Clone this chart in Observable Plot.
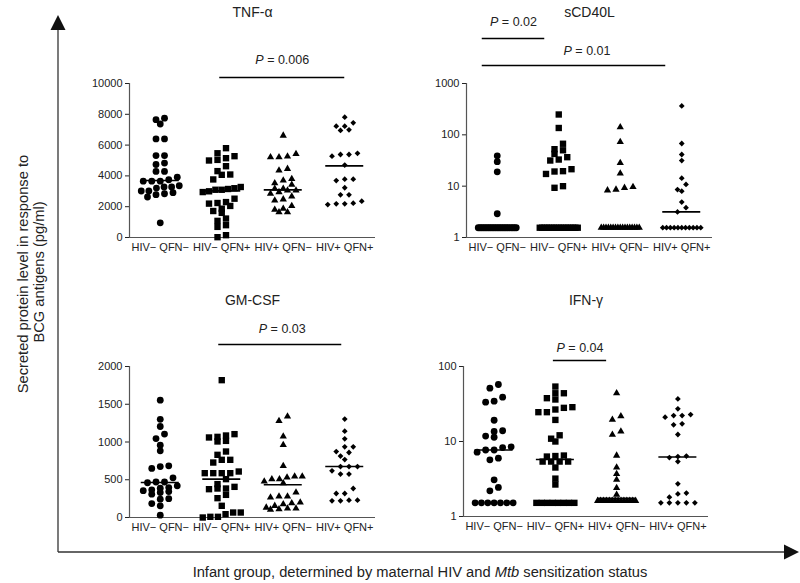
<!DOCTYPE html>
<html><head><meta charset="utf-8">
<script src="https://cdn.jsdelivr.net/npm/d3@7"></script>
<script src="https://cdn.jsdelivr.net/npm/@observablehq/plot@0.6"></script>
<style>
body{margin:0;background:#fff;}
#chart{position:relative;width:800px;height:583px;font-family:"Liberation Sans",Arial,Helvetica,sans-serif;color:#222;background:#fff;}
#chart svg{position:absolute;left:0;top:0;}
</style></head><body>
<div id="chart">
<svg id="outer" width="800" height="583">
  <line x1="58" y1="28" x2="58" y2="552" stroke="#333" stroke-width="1.3"/>
  <polygon points="58,15 50.5,30 65.5,30" fill="#111"/>
  <line x1="58" y1="552" x2="786" y2="552" stroke="#333" stroke-width="1.3"/>
  <polygon points="799,552 784,544.5 784,559.5" fill="#111"/>
  <text transform="translate(28,272) rotate(-90)" text-anchor="middle" font-size="14.7" fill="#222" font-family="Liberation Sans, Arial, sans-serif">
    <tspan x="0" dy="0">Secreted protein level in response to</tspan>
    <tspan x="0" dy="16">BCG antigens (pg/ml)</tspan>
  </text>
  <text x="420" y="577" text-anchor="middle" font-size="14.7" fill="#222" font-family="Liberation Sans, Arial, sans-serif">Infant group, determined by maternal HIV and <tspan font-style="italic">Mtb</tspan> sensitization status</text>
</svg>
</div>
<script>
// ---------- DATA ----------
const groups = ["HIV\u2212 QFN\u2212", "HIV\u2212 QFN+", "HIV+ QFN\u2212", "HIV+ QFN+"];

// TNF-alpha (pg/ml)
const tnfNegNeg = [7750,7370,7650,6400,6400,5320,5320,4740,4830,4290,4290,3920,3660,3660,3660,3750,3280,3280,3360,3210,3020,2910,2780,2630,2840,3020,950];
const tnfNegPos = [5800,5280,5000,5040,5150,5470,4630,4310,4070,4090,3770,3280,3200,3100,2950,3000,3150,3100,2520,2300,2200,2240,1870,1600,1720,2050,1230,1080,800,690,20,150];
const tnfPosNeg = [6620,5430,5220,5220,5260,4460,4350,3810,3430,3710,3530,3170,3060,3060,3170,2950,2840,2480,2410,2670,2050,1810,1640,1640,1870];
const tnfPosPos = [7810,7230,6990,6950,7230,7450,5470,5280,5390,5390,4700,3790,3700,3790,3230,2770,2770,2230,2190,2140,2190,2360];
const tnfMedians = [3700,3030,3090,4650];
const tnfBrackets = [{from:1, to:3, label:"P = 0.006"}];

// sCD40L (pg/ml)
const cdNegNeg = [39,30,19,2.9,1.55,1.55,1.55,1.55,1.55,1.55,1.55,1.55,1.55,1.55,1.55,1.55,1.55,1.55,1.55,1.55,1.55,1.55,1.55,1.55,1.55,1.55,1.55];
const cdNegPos = [249,136,67,42.5,50,52.5,33,31.6,36.7,19.6,17.3,19.3,21.4,10,9.3,1.55,1.55,1.55,1.55,1.55,1.55,1.55,1.55,1.55,1.55,1.55,1.55,1.55,1.55,1.55,1.55,1.55];
const cdPosNeg = [141,73,28.4,17.7,9.7,8.6,8.3,9.3,1.55,1.55,1.55,1.55,1.55,1.55,1.55,1.55,1.55,1.55,1.55,1.55,1.55,1.55,1.55,1.55,1.55];
const cdPosPos = [366,67.8,41.4,31.6,14.3,10.8,8.6,8.0,4.9,3.8,3.15,1.55,1.55,1.55,1.55,1.55,1.55,1.55,1.55,1.55,1.55,1.55];
const cdMedians = [1.55,1.55,1.55,3.15];
const cdBrackets = [{from:0, to:1, label:"P = 0.02"}, {from:0, to:3, label:"P = 0.01"}];

// GM-CSF (pg/ml)
const gmNegNeg = [1554,1300,1205,1105,1045,958,883,685,650,675,525,470,470,460,420,389,366,397,355,331,309,344,250,243,185,155,31];
const gmNegPos = [1819,1104,1068,1015,1007,1060,1086,874,830,764,728,764,609,587,587,587,587,508,384,406,375,384,442,300,256,155,66,44,9,0,9,66];
const gmPosNeg = [1280,1338,1073,962,684,530,543,543,508,508,477,455,331,265,278,278,199,190,132,119,119,155,177,110,105];
const gmPosPos = [1303,1144,1042,936,936,874,813,861,768,675,675,675,618,575,575,384,318,318,230,221,221,230];
const gmMedians = [464,508,433,675];
const gmBrackets = [{from:1, to:3, label:"P = 0.03"}];

// IFN-gamma (pg/ml)
const ifNegNeg = [51.4,57.5,34.5,33.4,39,19.2,13.9,13.6,11.8,11.4,8.5,7.7,7.7,7.2,8.3,6.0,5.7,3.08,2.44,2.2,1.52,1.52,1.52,1.52,1.52,1.52,1.52];
const ifNegPos = [54,44,37.8,36.3,44,28.7,24.6,26.7,24.6,28.1,19.4,12.1,10.9,10,6.4,6.3,6.5,5.4,5.4,5.4,5.4,4.5,3.2,2.67,1.52,1.52,1.52,1.52,1.52,1.52,1.52,1.52];
const ifPosNeg = [44,21.8,19.6,12.3,13.6,6.5,4.5,3.7,3.1,2.4,1.95,1.62,1.62,1.62,1.62,1.62,1.62,1.62,1.62,1.62,1.62,1.62,1.62,1.62,1.62];
const ifPosPos = [37,27.3,22.2,21.1,22.9,22.2,17.2,16.7,12.4,6.3,5.4,6.1,6.4,2.73,2.05,1.81,2.0,1.52,1.52,1.52,1.52,1.52];
const ifMedians = [7.7,5.75,1.75,6.2];
const ifBrackets = [{from:1, to:2, label:"P = 0.04"}];

// Tick values
const tnfTicks = [0,2000,4000,6000,8000,10000];
const cdTicks = [1,10,100,1000];
const gmTicks = [0,500,1000,1500,2000];
const ifTicks = [1,10,100];

// ---------- LAYOUT / STYLE ----------
const symbols = ["circle","square","triangle","diamond2"];
const symbolR = [3.4,3.6,2.7,2.6];
const panels = [
  {title:"TNF-\u03b1", series:[tnfNegNeg,tnfNegPos,tnfPosNeg,tnfPosPos], medians:tnfMedians, brackets:tnfBrackets,
   type:"linear", domain:[0,10000], ticks:tnfTicks, frame:{left:129,right:375,top:83,bottom:237}, titleY:7,
   bracketLayout:[{gap:6, s1:-2, s2:0, tgap:18, tdx:0}]},
  {title:"sCD40L", series:[cdNegNeg,cdNegPos,cdPosNeg,cdPosPos], medians:cdMedians, brackets:cdBrackets,
   type:"log", domain:[1,1000], ticks:cdTicks, frame:{left:466,right:712,top:83,bottom:237}, titleY:7,
   bracketLayout:[{gap:45, s1:-15, s2:-14, tgap:17, tdx:0},{gap:18, s1:-15, s2:-16, tgap:15, tdx:13}]},
  {title:"GM-CSF", series:[gmNegNeg,gmNegPos,gmPosNeg,gmPosPos], medians:gmMedians, brackets:gmBrackets,
   type:"linear", domain:[0,2000], ticks:gmTicks, frame:{left:129,right:375,top:366,bottom:517}, titleY:295,
   bracketLayout:[{gap:22, s1:-3, s2:-3, tgap:16, tdx:2}]},
  {title:"IFN-\u03b3", series:[ifNegNeg,ifNegPos,ifPosNeg,ifPosPos], medians:ifMedians, brackets:ifBrackets,
   type:"log", domain:[1,100], ticks:ifTicks, frame:{left:463,right:708,top:366,bottom:516}, titleY:295,
   bracketLayout:[{gap:6, s1:-2, s2:-10, tgap:13, tdx:0}]}
];

const W = 800, H = 583;
const binH = 5.5, maxSp = 8.5, maxW = 38, medHalf = 19;

function swarm(cfg, yScale, band) {
  const pts = [];
  cfg.series.forEach((vals, gi) => {
    const items = vals.map(v => ({v, py: yScale(v)})).sort((a, b) => a.py - b.py);
    const rows = [];
    let cur = null;
    for (const it of items) {
      if (!cur || it.py - cur.y0 > binH) { cur = {y0: it.py, items: []}; rows.push(cur); }
      cur.items.push(it);
    }
    for (const row of rows) {
      const n = row.items.length;
      const sp = n > 1 ? Math.min(maxSp, maxW / (n - 1)) : 0;
      row.items.sort((a, b) => a.v - b.v);
      row.items.forEach((it, k) => pts.push({g: gi, v: it.v, x: gi + (k - (n - 1) / 2) * sp / band}));
    }
  });
  return pts;
}

const chart = document.getElementById("chart");
for (const cfg of panels) {
  const f = cfg.frame;
  const yScale = (cfg.type === "log" ? d3.scaleLog() : d3.scaleLinear()).domain(cfg.domain).range([f.bottom, f.top]);
  const band = (f.right - f.left) / 4;
  const pts = swarm(cfg, yScale, band);
  const bk = cfg.brackets.map((b, i) => {
    const L = cfg.bracketLayout[i];
    const x1 = b.from + L.s1 / band, x2 = b.to + L.s2 / band;
    return {label: b.label, x1, x2, xm: (x1 + x2) / 2 + L.tdx / band,
      y: yScale.invert(f.top - L.gap), ty: yScale.invert(f.top - L.gap - L.tgap)};
  });
  const med = cfg.medians.map((m, g) => ({g, m}));
  const marks = [
    Plot.ruleX([-0.5], {stroke: "#555", strokeWidth: 1.2}),
    Plot.ruleY([cfg.domain[0]], {stroke: "#555", strokeWidth: 1.2}),
    ...symbols.map((s, gi) => Plot.dot(pts.filter(d => d.g === gi), {x: "x", y: "v", symbol: s, r: symbolR[gi], fill: "#000", stroke: "none"})),
    Plot.ruleY(med, {y: "m", x1: d => d.g - medHalf / band, x2: d => d.g + medHalf / band, stroke: "#000", strokeWidth: 1.6}),
    Plot.ruleY(bk, {y: "y", x1: "x1", x2: "x2", stroke: "#000", strokeWidth: 1.5}),
    Plot.text(bk, {x: "xm", y: "ty", text: "label", fontSize: 12.5, fill: "#222", textAnchor: "middle"}),
    Plot.text([cfg.title], {frameAnchor: "top", dy: cfg.titleY - f.top, fontSize: 14, fill: "#222"})
  ];
  const svg = Plot.plot({
    width: W, height: H,
    marginLeft: f.left, marginRight: W - f.right, marginTop: f.top, marginBottom: H - f.bottom,
    style: {background: "none", overflow: "visible", fontFamily: "Liberation Sans, Arial, sans-serif", fontSize: "11px", color: "#222"},
    x: {type: "linear", domain: [-0.5, 3.5], ticks: [0, 1, 2, 3], tickFormat: i => groups[i], tickSize: 0, tickPadding: 6, label: null},
    y: {type: cfg.type, domain: cfg.domain, ticks: cfg.ticks, tickFormat: d => String(d), tickSize: 4, tickPadding: 3, label: null},
    marks
  });
  d3.select(svg).selectAll("text").each(function() {
    const t = this.textContent;
    if (t.startsWith("P = ") && this.children.length === 0) {
      const sel = d3.select(this);
      sel.text(null);
      sel.append("tspan").attr("font-style", "italic").text("P");
      sel.append("tspan").text(t.slice(1));
    }
  });
  chart.appendChild(svg);
}
</script>
</body></html>
